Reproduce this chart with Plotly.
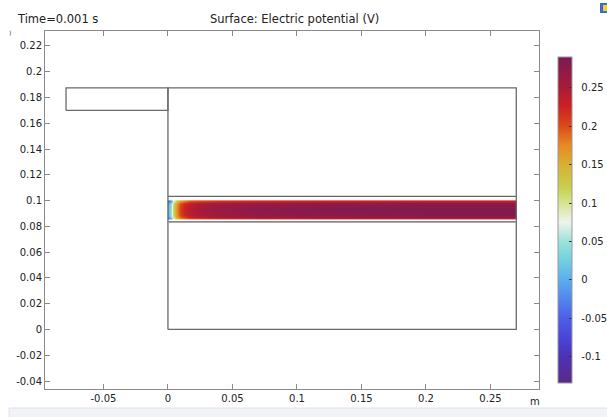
import plotly.graph_objects as go

# ---------------- data ----------------
# geometry outlines (m)
inlet_x = [-0.079, 0.0, 0.0, -0.079, -0.079]
inlet_y = [0.1700, 0.1700, 0.1875, 0.1875, 0.1700]
domain_x = [0.0, 0.27, 0.27, 0.0, 0.0]
domain_y = [0.0, 0.0, 0.1875, 0.1875, 0.0]
channel_top_x = [0.0, 0.27]
channel_top_y = [0.1033, 0.1033]
channel_bot_x = [0.0, 0.27]
channel_bot_y = [0.0835, 0.0835]

# electric potential field sampled in the channel (V)
field_x = [0.0003, 0.001, 0.002, 0.003, 0.004, 0.0055, 0.007, 0.009, 0.012,
           0.016, 0.025, 0.04, 0.07, 0.12, 0.2, 0.2685, 0.2698]
field_y = [0.0859, 0.0862, 0.0872, 0.0887, 0.0930, 0.0973, 0.0988, 0.0997, 0.1000]
row_edge = [-0.07, -0.04, -0.01, 0.03, 0.07, 0.10, 0.13, 0.16, 0.18,
            0.195, 0.205, 0.215, 0.22, 0.225, 0.228, 0.228, 0.228]
row_near = [-0.03, 0.0, 0.03, 0.06, 0.095, 0.125, 0.155, 0.185, 0.205,
            0.22, 0.235, 0.245, 0.255, 0.26, 0.265, 0.265, 0.265]
row_mid = [-0.01, 0.015, 0.045, 0.075, 0.105, 0.14, 0.17, 0.2, 0.22,
           0.235, 0.25, 0.26, 0.27, 0.275, 0.278, 0.278, 0.278]
row_center = [0.0, 0.02, 0.05, 0.08, 0.11, 0.145, 0.175, 0.205, 0.225,
              0.24, 0.255, 0.265, 0.275, 0.28, 0.283, 0.283, 0.283]
field_z = [row_edge, row_edge, row_near, row_mid, row_center,
           row_mid, row_near, row_edge, row_edge]

cb_min, cb_max = -0.134, 0.29
cb_ticks = [-0.1, -0.05, 0, 0.05, 0.1, 0.15, 0.2, 0.25]
cb_labels = ["-0.1", "-0.05", "0", "0.05", "0.1", "0.15", "0.2", "0.25"]
x_ticks = [-0.05, 0, 0.05, 0.1, 0.15, 0.2, 0.25]
x_labels = ["-0.05", "0", "0.05", "0.1", "0.15", "0.2", "0.25"]
y_ticks = [-0.04, -0.02, 0, 0.02, 0.04, 0.06, 0.08, 0.1, 0.12, 0.14, 0.16, 0.18, 0.2, 0.22]
y_labels = ["-0.04", "-0.02", "0", "0.02", "0.04", "0.06", "0.08", "0.1", "0.12",
            "0.14", "0.16", "0.18", "0.2", "0.22"]

stop_vals = [-0.134, -0.1, -0.075, -0.05, -0.025, 0.0, 0.025, 0.05, 0.075,
             0.1, 0.12, 0.15, 0.175, 0.2, 0.225, 0.25, 0.29]
stop_cols = ["#5b2a85", "#4b32b5", "#4a45d8", "#4c5fe8", "#5385ee", "#5aaeee",
             "#72cfe0", "#9ce2d8", "#eef4ee", "#d6e490", "#c8d050", "#d8b030",
             "#e88a22", "#dc4a1a", "#cc2222", "#aa1a38", "#7a1a55"]
colorscale = [[(v - cb_min) / (cb_max - cb_min), c] for v, c in zip(stop_vals, stop_cols)]

# ---------------- layout helpers ----------------
W, H = 607, 417
PL, PR, PT, PB = 45, 539, 31, 389  # plot area in pixels


def px(xp):
    return (xp - PL) / (PR - PL)


def py(yp):
    return (PB - yp) / (PB - PT)


FONT = "DejaVu Sans"
LINE = "#6a6a6a"
NBSP = "\u00a0"

fig = go.Figure()

for xs, ys, col, w in [(inlet_x, inlet_y, LINE, 1.3), (domain_x, domain_y, LINE, 1.3),
                       (channel_top_x, channel_top_y, "#666666", 1.3),
                       (channel_bot_x, channel_bot_y, "#8a8a8a", 1.8)]:
    fig.add_trace(go.Scatter(x=xs, y=ys, mode="lines", line=dict(color=col, width=w),
                             hoverinfo="skip", showlegend=False))

fig.add_trace(go.Heatmap(
    x=field_x, y=field_y, z=field_z, zsmooth="best",
    colorscale=colorscale, zmin=cb_min, zmax=cb_max,
    colorbar=dict(
        x=px(558), xanchor="left", xpad=0, ypad=0,
        y=py(220), yanchor="middle", len=(383 - 57) / (PB - PT), lenmode="fraction",
        thickness=14, thicknessmode="pixels",
        outlinewidth=1, outlinecolor="#9a9a9a",
        tickvals=cb_ticks, ticktext=[NBSP * 2 + t for t in cb_labels],
        ticks="inside", ticklen=3,
        tickcolor="#333333", tickfont=dict(family=FONT, size=10, color="#222222"),
    ),
    showscale=True,
))

axis_common = dict(showline=True, linecolor="#8a8a8a", linewidth=1, mirror="ticks",
                   ticks="inside", ticklen=5, tickcolor="#8a8a8a",
                   showgrid=False, zeroline=False,
                   tickfont=dict(family=FONT, size=10, color="#222222"))

fig.update_layout(
    width=W, height=H,
    margin=dict(l=PL, r=W - PR, t=PT, b=H - PB, pad=0, autoexpand=False),
    paper_bgcolor="white", plot_bgcolor="white",
    xaxis=dict(range=[-0.0953, 0.2876], tickvals=x_ticks, ticktext=x_labels, **axis_common),
    yaxis=dict(range=[-0.0462, 0.2316], tickvals=y_ticks, ticktext=y_labels, **axis_common),
    annotations=[
        dict(text="Time=0.001 s", x=px(15), y=py(19), xref="paper", yref="paper",
             xanchor="left", yanchor="middle", showarrow=False,
             font=dict(family=FONT, size=11.5, color="#222222")),
        dict(text="Surface: Electric potential (V)", x=px(294), y=py(19), xref="paper",
             yref="paper", xanchor="center", yanchor="middle", showarrow=False,
             font=dict(family=FONT, size=11.5, color="#222222")),
        dict(text="m", x=px(535), y=py(401), xref="paper", yref="paper",
             xanchor="center", yanchor="middle", showarrow=False,
             font=dict(family=FONT, size=10, color="#222222")),
        dict(text=")", x=px(10), y=py(32), xref="paper", yref="paper",
             xanchor="center", yanchor="middle", showarrow=False,
             font=dict(family=FONT, size=6, color="#333333")),
    ],
    shapes=[
        dict(type="rect", xref="paper", yref="paper", x0=px(9), x1=px(608),
             y0=py(408), y1=py(418), fillcolor="#f2f3f6",
             line=dict(color="#dfe2e8", width=1), layer="below"),
        dict(type="rect", xref="paper", yref="paper", x0=px(600), x1=px(608),
             y0=py(3), y1=py(13), fillcolor="#3c6cc4", line=dict(width=0)),
        dict(type="rect", xref="paper", yref="paper", x0=px(603), x1=px(608),
             y0=py(5), y1=py(11), fillcolor="#f0d040", line=dict(width=0)),
    ],
)

fig.write_html("out.html", config={"displayModeBar": False})
